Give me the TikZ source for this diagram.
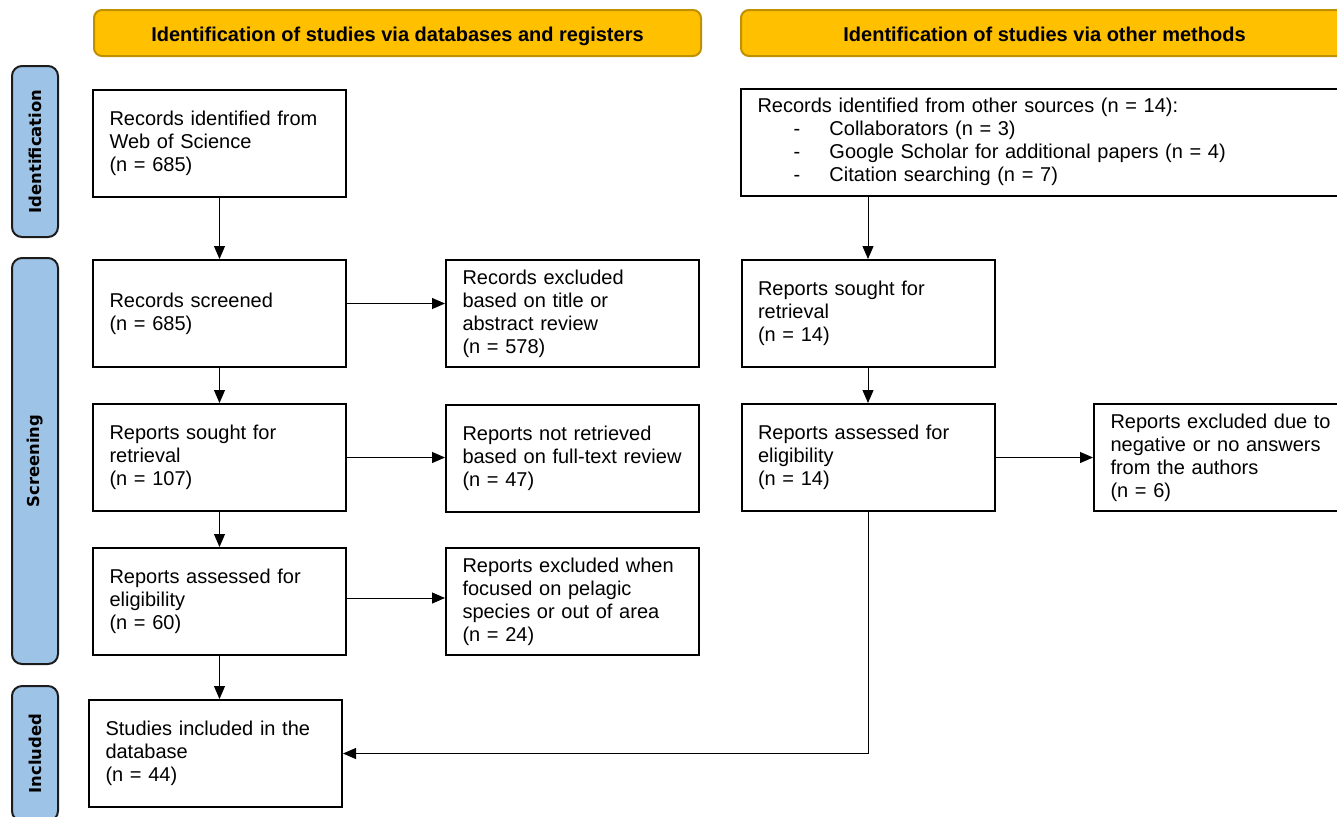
\documentclass[tikz,border=0pt]{standalone}
\usepackage{xcolor}
\usepackage{fontspec}
\setmainfont{Liberation Sans}
\newfontfamily\sidefont{DejaVu Sans}
\usepackage{tikz}
\usetikzlibrary{arrows.meta}
\usetikzlibrary{positioning}

\definecolor{headgold}{HTML}{FFC000}
\definecolor{headrim}{HTML}{BF9000}
\definecolor{sideblue}{HTML}{9DC3E6}
\definecolor{siderim}{HTML}{1C1C1C}

\tikzset{
 flowbox/.style={rectangle, draw=black, line width=1pt, minimum width=126.5pt, minimum height=53.5pt, text width=110pt, inner xsep=8.25pt, align=left, font=\fontsize{10pt}{11.5pt}\selectfont},
 headbox/.style={rectangle, rounded corners=4pt, fill=headgold, draw=headrim, line width=1pt, minimum width=303.5pt, minimum height=23pt, text height=0.95em, text depth=0.13em, font=\bfseries\fontsize{10pt}{12pt}\selectfont},
 phasebox/.style={rectangle, rounded corners=5pt, fill=sideblue, draw=siderim, line width=1pt, rotate=90, minimum height=23pt, font=\sidefont\bfseries\fontsize{8.2pt}{10pt}\selectfont},
 flowarrow/.style={-{Triangle[length=6.5pt,width=5.5pt]}, line width=0.5pt, draw=black}
}

\begin{document}
\begin{tikzpicture}[x=0.5pt, y=-0.5pt]
 \clip (0, 0) rectangle (1337, 816);
 \node [headbox] (H1) at (397.5, 33) {Identification of studies via databases and registers};
 \node [headbox] (H2) at (1044.5, 33) {Identification of studies via other methods};
 \node [phasebox, minimum width=85.5pt] (P1) at (35, 151.5) {Identification};
 \node [phasebox, minimum width=203pt] (P2) at (35, 461) {Screening};
 \node [phasebox, minimum width=67.5pt] (P3) at (35, 753.5) {Included};
 \node [flowbox] (WoS) at (219.5, 143) {Records identified from\\Web of Science\\(n = 685)};
 \node [flowbox] (Scr) at (219.5, 313.5) {Records screened\\(n = 685)};
 \node [flowbox] (Sou) at (219.5, 457.5) {Reports sought for\\retrieval\\(n = 107)};
 \node [flowbox] (Ass) at (219.5, 601.5) {Reports assessed for\\eligibility\\(n = 60)};
 \node [flowbox] (Inc) at (215.5, 753.5) {Studies included in the\\database\\(n = 44)};
 \node [flowbox] (ExS) at (572.5, 313.5) {Records excluded\\based on title or\\abstract review\\(n = 578)};
 \node [flowbox] (ExR) at (572.5, 458) {Reports not retrieved\\based on full-text review\\(n = 47)};
 \node [flowbox] (ExA) at (572.5, 601.5) {Reports excluded when\\focused on pelagic\\species or out of area\\(n = 24)};
 \node [flowbox, minimum width=303.5pt, text width=287pt] (Oth) at (1044.5, 142) {Records identified from other sources (n = 14):\\
  \hspace*{18pt}\makebox[18pt][l]{-}Collaborators (n = 3)\\
  \hspace*{18pt}\makebox[18pt][l]{-}Google Scholar for additional papers (n = 4)\\
  \hspace*{18pt}\makebox[18pt][l]{-}Citation searching (n = 7)};
 \node [flowbox] (OSou) at (868, 313.5) {Reports sought for\\retrieval\\(n = 14)};
 \node [flowbox] (OAss) at (868, 457.5) {Reports assessed for\\eligibility\\(n = 14)};
 \node [flowbox, text width=120pt] (OExc) at (1230.5, 457.5) {Reports excluded due to\\negative or no answers\\from the authors\\(n = 6)};
 \draw [flowarrow] (WoS) to (Scr);
 \draw [flowarrow] (Scr) to (Sou);
 \draw [flowarrow] (Sou) to (Ass);
 \draw [flowarrow] (Ass.south) to (Ass.south |- Inc.north);
 \draw [flowarrow] ([yshift=5pt]Scr.east) to ([yshift=5pt]ExS.west);
 \draw [flowarrow] (Sou.east) to (Sou.east -| ExR.west);
 \draw [flowarrow] ([yshift=1.75pt]Ass.east) to ([yshift=1.75pt]ExA.west);
 \draw [flowarrow] (OSou.north |- Oth.south) to (OSou.north);
 \draw [flowarrow] (OSou) to (OAss);
 \draw [flowarrow] (OAss) to (OExc);
 \draw [flowarrow] (OAss.south) |- (Inc.east);
\end{tikzpicture}
\end{document}
